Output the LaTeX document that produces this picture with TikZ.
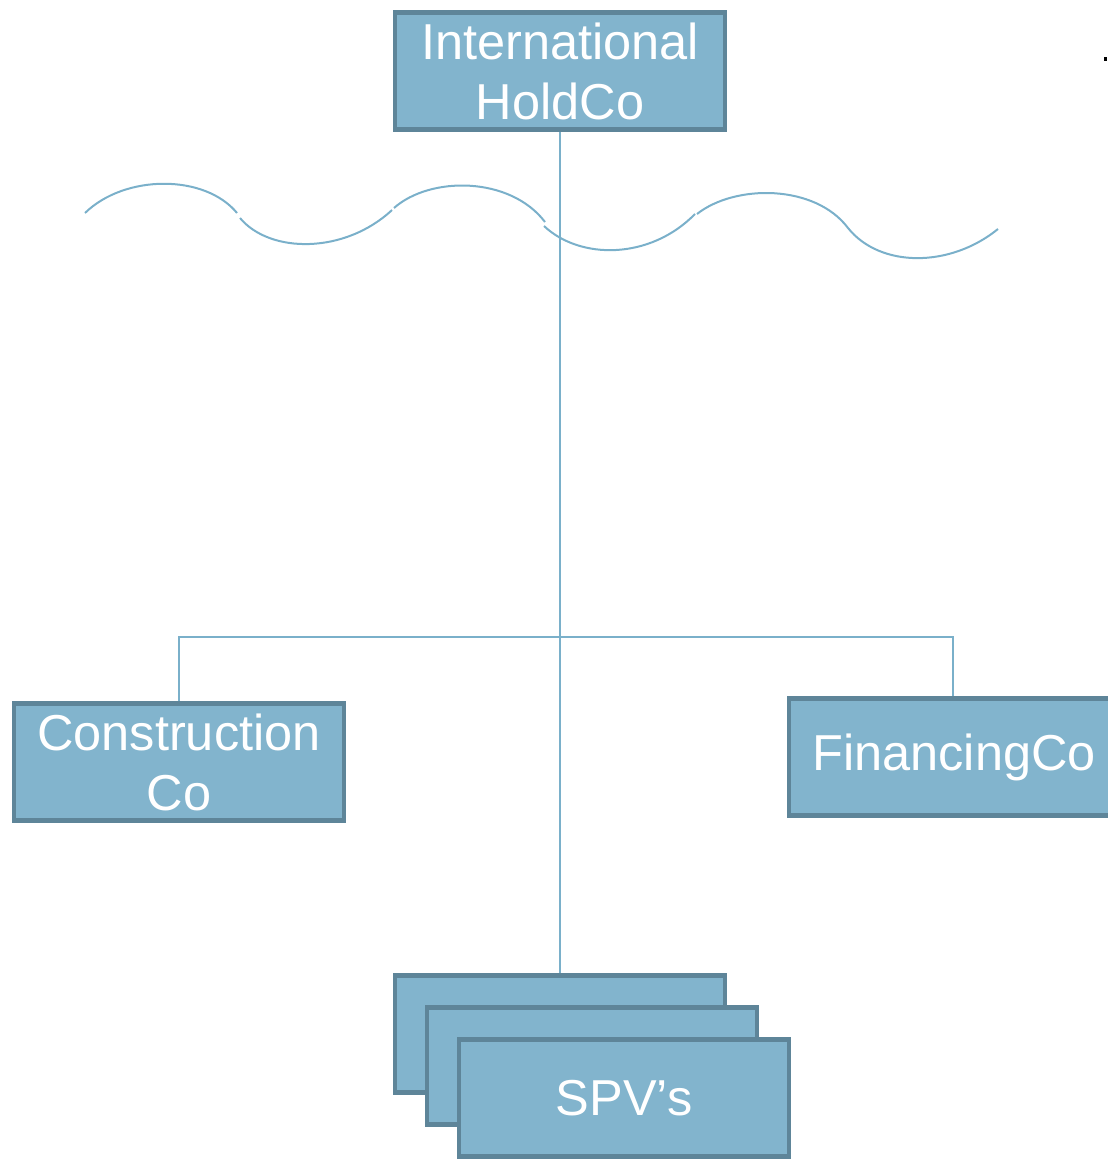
\documentclass[tikz,border=0pt]{standalone}
\usepackage{fontspec}
\setmainfont{Liberation Sans}
\usepackage{xcolor}
\definecolor{boxfill}{RGB}{130,180,205}
\definecolor{boxline}{RGB}{94,133,153}
\definecolor{linkline}{RGB}{122,176,202}

\begin{document}
\begin{tikzpicture}[x=1pt, y=-1pt,
  box/.style={draw=boxline, fill=boxfill, line width=4.5pt, minimum width=330pt, minimum height=117pt,
    inner sep=0pt, align=center, text=white, font=\fontsize{50.5}{60}\selectfont},
  link/.style={draw=linkline, line width=1.5pt},
  wave/.style={draw=linkline, line width=2pt}]
  \useasboundingbox (0,0) rectangle (1108,1159);

  % 上方的公司
  \node[box] (hold) at (560,71) {International\\HoldCo};

  % 波浪线
  \draw[wave] (85,213) .. controls (125,174) and (205,174) .. (237,213);
  \draw[wave] (240,218) .. controls (270,254) and (345,254) .. (392,210);
  \draw[wave] (394,208) .. controls (430,176) and (510,176) .. (545,222);
  \draw[wave] (544,226) .. controls (580,260) and (650,260) .. (695,214);
  \draw[wave] (697,214) .. controls (735,184) and (815,184) .. (848,228)
    .. controls (880,268) and (950,268) .. (998,229);

  % 连接线
  \coordinate (bar) at (560,637);
  \coordinate (con top) at (179,701);
  \coordinate (fin top) at (953,696);
  \draw[link] (hold.south) -- (560,973);
  \draw[link] (con top) |- (bar) -| (fin top);

  % 两侧的公司
  \node[box] (con) at (179,762) {Construction\\Co};
  \node[box] (fin) at (954,757) {FinancingCo};

  % 叠放的 SPV
  \foreach \i/\d in {1/0, 2/32}
    \node[box] (spv\i) at (560+\d,1034+\d) {};
  \node[box] (spv3) at (624,1098) {SPV’s};

  % 右上角的小点
  \fill (1104,57) rectangle (1107,61);
\end{tikzpicture}
\end{document}
